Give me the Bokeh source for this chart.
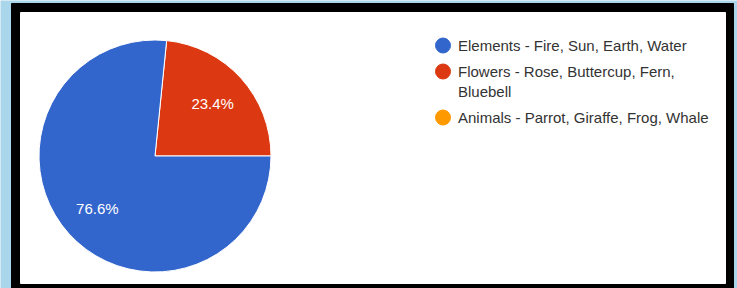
import math
from bokeh.plotting import figure
from bokeh.models import Range1d, ColumnDataSource
from bokeh.core.properties import value
from bokeh.embed import file_html
from bokeh.resources import INLINE

# ---- data ----
categories = [
    "Elements - Fire, Sun, Earth, Water",
    "Flowers - Rose, Buttercup, Fern,\nBluebell",
    "Animals - Parrot, Giraffe, Frog, Whale",
]
shares = [76.6, 23.4, 0.0]
colors = ["#3366cc", "#dc3912", "#ff9900"]
draw_order = [1, 0, 2]  # counter-clockwise from 3 o'clock

W, H = 737, 288
FONT = "Liberation Sans"

p = figure(width=W, height=H, x_range=Range1d(0, W), y_range=Range1d(0, H),
           output_backend="svg", toolbar_location=None, min_border=0,
           x_axis_location=None, y_axis_location=None)
p.grid.visible = False
p.outline_line_color = None
p.background_fill_color = "#a9d6ea"
p.border_fill_color = "#a9d6ea"

# frame (black border + white panel), page coords top-down converted
p.quad(left=[11], right=[733], bottom=[0], top=[H - 3], color="black")
p.quad(left=[20], right=[725], bottom=[H - 283], top=[H - 12], color="white")

# ---- pie ----
cx, cy, r = 154.5, H - 155.5, 116
total = sum(shares)
starts, ends, wcolors, lx, ly, ltext = [], [], [], [], [], []
a = 0.0
for i in draw_order:
    frac = shares[i] / total
    if frac <= 0:
        continue
    s, e = a, a + frac * 2 * math.pi
    starts.append(s)
    ends.append(e)
    wcolors.append(colors[i])
    mid = (s + e) / 2
    lx.append(cx + 0.67 * r * math.cos(mid))
    ly.append(cy + 0.67 * r * math.sin(mid))
    ltext.append(f"{shares[i]:.1f}%")
    a = e

src = ColumnDataSource(dict(x=[cx] * len(starts), y=[cy] * len(starts),
                            start=starts, end=ends, color=wcolors))
p.wedge(x="x", y="y", radius=r, radius_units="screen", start_angle="start",
        end_angle="end", fill_color="color", line_color="white", line_width=1,
        source=src)
p.text(x=lx, y=ly, text=ltext, text_color="white", text_font=value(FONT),
       text_font_size="15px", text_align="center", text_baseline="middle")

# ---- legend ----
leg_x, txt_x = 442.5, 457.5
y_page = 45
line_h, gap = 20, 26
cxs, cys, ccol = [], [], []
tx, ty, tt = [], [], []
for lab, col in zip(categories, colors):
    lines = lab.split("\n")
    cxs.append(leg_x)
    cys.append(H - y_page)
    ccol.append(col)
    for k, ln in enumerate(lines):
        tx.append(txt_x)
        ty.append(H - (y_page + k * line_h))
        tt.append(ln)
    y_page += gap + line_h * (len(lines) - 1)

p.scatter(x=cxs, y=cys, size=15, color=ccol)
p.text(x=tx, y=ty, text=tt, text_color="#333333", text_font=value(FONT),
       text_font_size="15px", text_align="left", text_baseline="middle")

open("out.html", "w").write(file_html(p, INLINE))
